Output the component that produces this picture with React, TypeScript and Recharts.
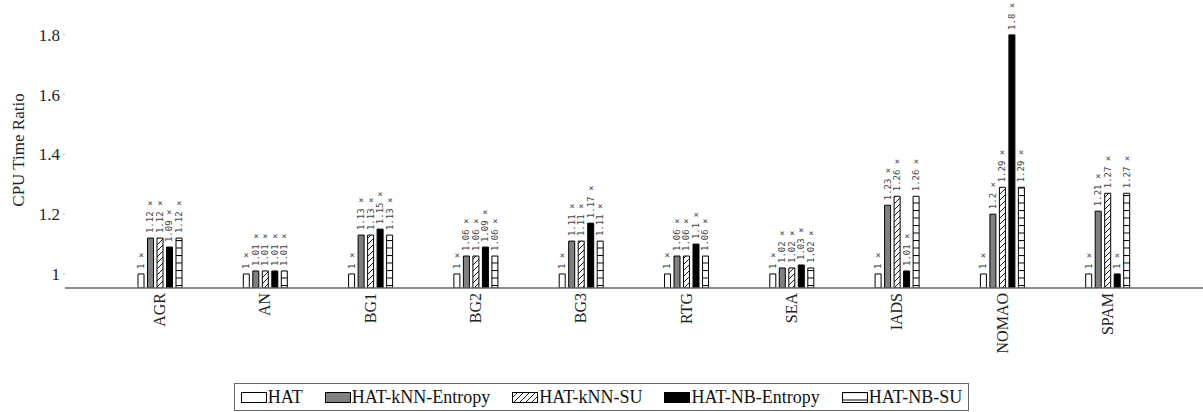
import { BarChart, Bar, XAxis, YAxis, Legend, LabelList } from "recharts";

const categories = ["AGR", "AN", "BG1", "BG2", "BG3", "RTG", "SEA", "IADS", "NOMAO", "SPAM"];
const hat = [1, 1, 1, 1, 1, 1, 1, 1, 1, 1];
const knnEntropy = [1.12, 1.01, 1.13, 1.06, 1.11, 1.06, 1.02, 1.23, 1.2, 1.21];
const knnSu = [1.12, 1.01, 1.13, 1.06, 1.11, 1.06, 1.02, 1.26, 1.29, 1.27];
const nbEntropy = [1.09, 1.01, 1.15, 1.09, 1.17, 1.1, 1.03, 1.01, 1.8, 1];
const nbSu = [1.12, 1.01, 1.13, 1.06, 1.11, 1.06, 1.02, 1.26, 1.29, 1.27];
const yTicks = [1, 1.2, 1.4, 1.6, 1.8];

const series = [
  { key: "hat", name: "HAT", fill: "#ffffff" },
  { key: "knnEntropy", name: "HAT-kNN-Entropy", fill: "#808080" },
  { key: "knnSu", name: "HAT-kNN-SU", fill: "url(#diag)" },
  { key: "nbEntropy", name: "HAT-NB-Entropy", fill: "#000000" },
  { key: "nbSu", name: "HAT-NB-SU", fill: "url(#hlines)" },
];

const data = categories.map((name, i) => ({
  name,
  hat: hat[i],
  knnEntropy: knnEntropy[i],
  knnSu: knnSu[i],
  nbEntropy: nbEntropy[i],
  nbSu: nbSu[i],
}));

const serif = "Liberation Serif";

function Patterns({ suffix }: { suffix: string }) {
  return (
    <defs>
      <pattern id={"diag" + suffix} patternUnits="userSpaceOnUse" width="6" height="6">
        <rect width="6" height="6" fill="#fff" />
        <path d="M-1,1 l2,-2 M0,6 l6,-6 M5,7 l2,-2" stroke="#000" strokeWidth="0.9" />
      </pattern>
      <pattern id={"hlines" + suffix} patternUnits="userSpaceOnUse" width="8" height="7.5">
        <rect width="8" height="7.5" fill="#fff" />
        <line x1="0" y1="0.5" x2="8" y2="0.5" stroke="#000" strokeWidth="1" />
      </pattern>
    </defs>
  );
}

const XTick = (props: any) => {
  const { x, y, payload } = props;
  return (
    <text
      x={x}
      y={y}
      transform={`rotate(-90 ${x} ${y})`}
      textAnchor="end"
      dominantBaseline="central"
      style={{ fontFamily: serif, fontSize: 16 }}
      fill="#222"
    >
      {payload.value}
    </text>
  );
};

const BarLabel = (props: any) => {
  const { x, y, width, value } = props;
  const cx = x + width / 2;
  const ty = y - 5;
  return (
    <text
      x={cx}
      y={ty}
      transform={`rotate(-90 ${cx} ${ty})`}
      textAnchor="start"
      dominantBaseline="central"
      style={{ fontFamily: "DejaVu Sans Mono", fontSize: 9 }}
      fill="#444"
    >
      {`${value} ×`}
    </text>
  );
};

const legendFill = (key: string) => {
  if (key === "knnSu") return "url(#diagL)";
  if (key === "nbSu") return "url(#hlinesL)";
  return series.find((s) => s.key === key)!.fill;
};

const LegendBox = () => (
  <div style={{ height: 36, display: "flex", justifyContent: "center", alignItems: "flex-end" }}>
    <div
      style={{
        display: "flex",
        alignItems: "center",
        gap: 22,
        border: "1px solid #666",
        padding: "2px 6px",
        height: 22,
        marginBottom: 1,
        fontFamily: serif,
        fontSize: 18,
        color: "#111",
        background: "#fff",
      }}
    >
      {series.map((s) => (
        <div key={s.key} style={{ display: "flex", alignItems: "center" }}>
          <svg width={26} height={11} style={{ display: "block" }}>
            <Patterns suffix="L" />
            <rect x={0.5} y={0.5} width={25} height={10} fill={legendFill(s.key)} stroke="#000" strokeWidth={1} />
          </svg>
          <span style={{ marginLeft: 1 }}>{s.name}</span>
        </div>
      ))}
    </div>
  </div>
);

export default function App() {
  return (
    <div style={{ position: "absolute", left: 0, top: 0, background: "#fff", fontFamily: serif }}>
      <BarChart
        width={1203}
        height={412}
        data={data}
        margin={{ top: 5, right: 0, left: 0, bottom: 0 }}
        barSize={6}
        barGap={3.5}
      >
        <Patterns suffix="" />
        <XAxis
          dataKey="name"
          interval={0}
          padding={{ left: 42, right: 43 }}
          tickLine={false}
          tickSize={5}
          tickMargin={0}
          height={88}
          axisLine={{ stroke: "#666", strokeWidth: 1.5 }}
          tick={<XTick />}
        />
        <YAxis
          type="number"
          domain={[0.953, 1.9]}
          allowDataOverflow
          ticks={yTicks}
          width={65}
          axisLine={false}
          tickSize={2}
          tickMargin={3}
          tickLine={{ stroke: "#bbb" }}
          tick={{ fontSize: 17, fill: "#222", style: { fontFamily: serif } }}
          label={{
            content: () => (
              <text
                x={18}
                y={150}
                transform="rotate(-90 18 150)"
                textAnchor="middle"
                dominantBaseline="central"
                style={{ fontFamily: serif, fontSize: 17 }}
                fill="#222"
              >
                CPU Time Ratio
              </text>
            ),
          }}
        />
        <Legend verticalAlign="bottom" content={<LegendBox />} />
        {series.map((s) => (
          <Bar
            key={s.key}
            dataKey={s.key}
            name={s.name}
            fill={s.fill}
            stroke="#000"
            strokeWidth={1}
            isAnimationActive={false}
          >
            <LabelList dataKey={s.key} content={<BarLabel />} />
          </Bar>
        ))}
      </BarChart>
    </div>
  );
}
